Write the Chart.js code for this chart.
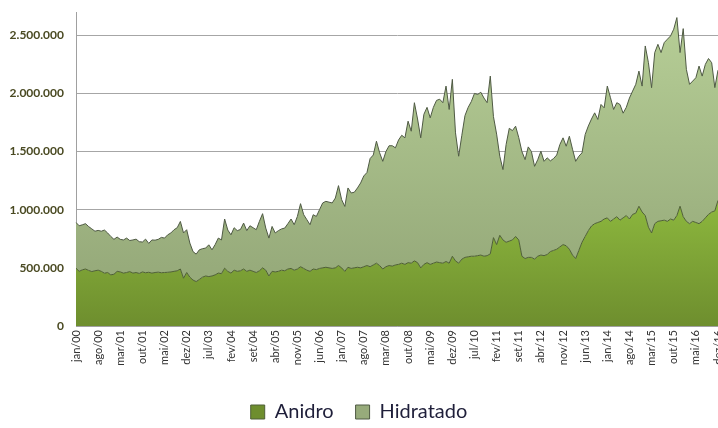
<!DOCTYPE html>
<html>
<head>
<meta charset="utf-8">
<script src="https://cdn.jsdelivr.net/npm/chart.js@4.4.1/dist/chart.umd.min.js"></script>
<style>
    html, body { margin: 0; padding: 0; background: #fff; }
    #wrap { width: 718px; height: 428px; position: relative; }
</style>
</head>
<body>
<div id="wrap"><canvas id="chart"></canvas></div>
<script>
// Categories
const monthNames = ['jan', 'fev', 'mar', 'abr', 'mai', 'jun', 'jul', 'ago', 'set', 'out', 'nov', 'dez'];
const years = ['00', '01', '02', '03', '04', '05', '06', '07', '08', '09', '10', '11', '12', '13', '14', '15', '16'];
const labels = [];
years.forEach(y => monthNames.forEach(m => labels.push(m + '/' + y)));

// Series values (thousand m³ per month)
const anidro = [
    497, 470, 483, 490, 478, 468, 475, 480, 470, 454, 460, 440,
    445, 470, 465, 455, 460, 468, 455, 460, 452, 465, 458, 462,
    455, 460, 463, 458, 460, 462, 465, 470, 475, 490, 411, 460,
    420, 395, 382, 400, 420, 430, 425, 430, 440, 455, 450, 497,
    470, 455, 480, 470, 475, 490, 470, 480, 470, 460, 475, 500,
    480, 430, 470, 465, 470, 480, 475, 490, 495, 480, 490, 510,
    495, 480, 470, 490, 485, 495, 500, 505, 500, 495, 500, 520,
    500, 470, 505, 495, 500, 505, 500, 510, 520, 510, 525, 540,
    520, 490, 510, 520, 515, 525, 530, 540, 530, 545, 540, 560,
    545, 500, 530, 545, 530, 540, 550, 545, 540, 555, 540, 600,
    560, 540, 575, 590, 595, 600, 600, 605, 610, 600, 605, 620,
    760, 700, 780, 740, 720, 730, 740, 770, 740, 600, 580, 590,
    590, 575, 600, 610, 605, 615, 640, 650, 660, 680, 700, 690,
    660, 610, 580, 650, 720, 770, 820, 860, 880, 890, 900, 920,
    930, 900, 920, 940, 910, 930, 950, 920, 960, 970, 1030, 980,
    950, 850, 800, 880, 900, 905, 910, 900, 920, 910, 950, 1030,
    940, 900, 880, 900, 890, 880, 900, 930, 960, 980, 990, 1080
];
const hidratado = [
    393, 392, 387, 390, 377, 367, 340, 342, 345, 371, 340, 330,
    300, 295, 280, 285, 296, 267, 285, 287, 273, 257, 289, 248,
    285, 278, 282, 304, 296, 322, 335, 358, 370, 409, 389, 368,
    293, 245, 236, 255, 245, 240, 273, 225, 260, 301, 290, 423,
    355, 329, 365, 350, 355, 395, 350, 382, 375, 368, 425, 466,
    362, 326, 386, 335, 350, 355, 367, 390, 425, 391, 452, 542,
    462, 434, 401, 467, 457, 505, 558, 567, 565, 563, 600, 687,
    586, 558, 682, 649, 650, 682, 730, 780, 800, 930, 945, 1049,
    970, 926, 990, 1030, 1035, 1007, 1070, 1100, 1088, 1216, 1135, 1360,
    1235, 1118, 1290, 1335, 1260, 1340, 1390, 1405, 1380, 1508, 1322, 1521,
    1101, 920, 1065, 1220, 1285, 1330, 1400, 1386, 1400, 1360, 1315, 1529,
    1040, 950, 680, 605, 840, 970, 940, 948, 880, 900, 851, 950,
    910, 798, 830, 893, 811, 831, 780, 790, 810, 880, 918, 856,
    972, 910, 836, 810, 769, 877, 900, 920, 953, 886, 1005, 956,
    1133, 1063, 942, 980, 995, 900, 930, 1040, 1060, 1108, 1162, 1083,
    1458, 1414, 1249, 1471, 1522, 1446, 1527, 1566, 1574, 1642, 1702, 1321,
    1617, 1307, 1198, 1206, 1245, 1355, 1249, 1320, 1340, 1284, 1060, 1120
];

// Axis ticks (thousand m³)
const yTicks = [0, 500, 1000, 1500, 2000, 2500];

function fmt(v) {
    return String(v).replace(/\B(?=(\d{3})+(?!\d))/g, '.');
}

function gradientFill(top, bottom, fromVal, toVal, fallback) {
    return (context) => {
        const chart = context.chart;
        if (!chart.chartArea || !chart.scales.y) return fallback;
        const y = chart.scales.y;
        const g = chart.ctx.createLinearGradient(0, y.getPixelForValue(fromVal), 0, y.getPixelForValue(toVal));
        g.addColorStop(0, top);
        g.addColorStop(1, bottom);
        return g;
    };
}

// push the legend down to the bottom edge, as in the original
const legendDown = {
    id: 'legendDown',
    afterLayout(chart) {
        if (chart.legend) chart.legend.top = 380;
    }
};

const ctx = document.getElementById('chart').getContext('2d');
new Chart(ctx, {
    type: 'line',
    data: {
        labels: labels,
        datasets: [
            {
                label: 'Anidro',
                data: anidro,
                fill: 'origin',
                backgroundColor: gradientFill('#8db83e', '#6e8e2e', 1100, 0, '#76a032'),
                borderColor: '#4f5f38',
                borderWidth: 1,
                pointRadius: 0,
                tension: 0
            },
            {
                label: 'Hidratado',
                data: hidratado,
                fill: '-1',
                backgroundColor: gradientFill('#b6ce96', '#97ab7b', 2650, 500, '#a4ba86'),
                borderColor: '#4f5a44',
                borderWidth: 1,
                pointRadius: 0,
                tension: 0
            }
        ]
    },
    options: {
        responsive: true,
        maintainAspectRatio: false,
        animation: false,
        layout: { padding: { top: 12, right: 0, left: 0, bottom: 0 } },
        plugins: {
            tooltip: { enabled: false },
            legend: {
                position: 'bottom',
                labels: {
                    boxWidth: 14,
                    boxHeight: 14,
                    padding: 22,
                    color: '#1f1f3a',
                    font: { family: 'Lato', size: 20 }
                }
            }
        },
        scales: {
            x: {
                offset: false,
                grid: { display: false, drawTicks: false },
                border: { color: '#a0a0a0' },
                ticks: {
                    autoSkip: false,
                    maxRotation: 90,
                    minRotation: 90,
                    padding: 4,
                    color: '#333333',
                    font: { family: 'Lato', size: 11 },
                    callback: (v, i) => (i % 7 === 0 ? labels[i] : '')
                },
                afterFit: (scale) => { scale.height = 50; scale.paddingRight = 0; }
            },
            y: {
                stacked: true,
                min: 0,
                max: 2700,
                afterBuildTicks: (scale) => { scale.ticks = yTicks.map(v => ({ value: v })); },
                grid: { color: '#a6a6a6', drawTicks: false },
                border: { color: '#a0a0a0' },
                ticks: {
                    padding: 12,
                    color: '#4a4a22',
                    font: { family: 'Lato', size: 12, weight: 'bold' },
                    callback: (v) => fmt(v * 1000)
                },
                afterFit: (scale) => { scale.width = 76; scale.paddingTop = 0; }
            }
        }
    },
    plugins: [legendDown]
});
</script>
</body>
</html>
